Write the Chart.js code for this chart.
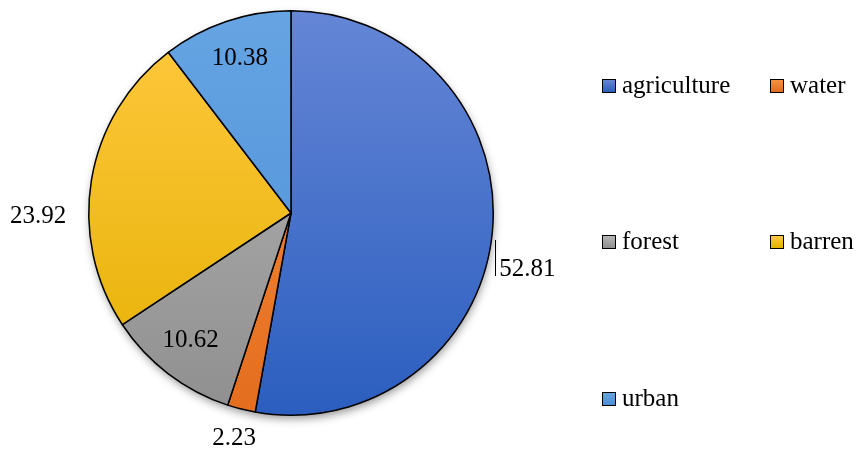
<!DOCTYPE html>
<html>
<head>
<meta charset="utf-8">
<script src="https://cdn.jsdelivr.net/npm/chart.js@4/dist/chart.umd.min.js"></script>
<style>
  html, body { margin: 0; padding: 0; background: #fff; }
  #wrap { position: relative; width: 864px; height: 453px; }
  #pie { position: absolute; left: 0; top: 0; }
  .leg { position: absolute; font-family: "Liberation Serif", Tinos, "Times New Roman", "DejaVu Serif", serif; font-size: 25px; color: #000; line-height: 1; white-space: nowrap; }
  .leg .box { position: absolute; left: 0; width: 12px; height: 12px; border: 1px solid #000; }
  .leg .txt { position: absolute; }
</style>
</head>
<body>
<div id="wrap">
  <canvas id="pie" width="864" height="453"></canvas>
</div>
<script>
// data
const categories = ['agriculture', 'water', 'forest', 'barren', 'urban'];
const shares = [52.81, 2.23, 10.62, 23.92, 10.38];

// top / bottom gradient colours per slice
const colTop = ['#6586d6', '#f6903f', '#b6b6b6', '#ffc940', '#66a4e3'];
const colBot = ['#2b5ebf', '#e46d1e', '#8f8f8f', '#e4b000', '#4b8fd6'];

// label placement: radius factor and angle nudge (degrees), leader line flag
const labelPlace = [
  { r: 1.2, nudge: 8, leader: true },
  { r: 1.145, nudge: 0 },
  { r: 0.8, nudge: 1 },
  { r: 1.25, nudge: -10 },
  { r: 0.81, nudge: 0.5 }
];

const FONT = '25px "Liberation Serif", Tinos, "Times New Roman", "DejaVu Serif", serif';

function pieGradient(ctx, i) {
  const area = ctx.chart.chartArea;
  if (!area) return colTop[i];
  const g = ctx.chart.ctx.createLinearGradient(0, area.top, 0, area.bottom);
  g.addColorStop(0, colTop[i]);
  g.addColorStop(1, colBot[i]);
  return g;
}

const shadowPlugin = {
  id: 'pieShadow',
  beforeDatasetsDraw(chart) {
    const arc = chart.getDatasetMeta(0).data[0];
    if (!arc) return;
    const c = chart.ctx;
    c.save();
    c.shadowColor = 'rgba(0,0,0,0.45)';
    c.shadowBlur = 10;
    c.shadowOffsetX = 1;
    c.shadowOffsetY = 4;
    c.fillStyle = '#fff';
    c.beginPath();
    c.arc(arc.x, arc.y, arc.outerRadius - 1, 0, Math.PI * 2);
    c.fill();
    c.restore();
  }
};

const labelPlugin = {
  id: 'pieLabels',
  afterDatasetsDraw(chart) {
    const c = chart.ctx;
    const meta = chart.getDatasetMeta(0);
    c.save();
    c.font = FONT;
    c.fillStyle = '#000';
    c.textAlign = 'center';
    c.textBaseline = 'middle';
    meta.data.forEach((arc, i) => {
      const p = labelPlace[i];
      const mid = (arc.startAngle + arc.endAngle) / 2 + p.nudge * Math.PI / 180;
      const rr = arc.outerRadius * p.r;
      const x = arc.x + Math.cos(mid) * rr;
      const y = arc.y + Math.sin(mid) * rr;
      const txt = shares[i].toFixed(2);
      c.fillText(txt, x, y + 1);
      if (p.leader) {
        const w = c.measureText(txt).width;
        const lx = Math.round(x - w / 2 - 4) + 0.5;
        c.strokeStyle = '#000';
        c.lineWidth = 1;
        c.beginPath();
        c.moveTo(lx, y - 28);
        c.lineTo(lx, y + 8);
        c.stroke();
      }
    });
    c.restore();
  }
};

const chart = new Chart(document.getElementById('pie'), {
  type: 'pie',
  data: {
    labels: categories,
    datasets: [{
      data: shares,
      backgroundColor: ctx => pieGradient(ctx, ctx.dataIndex),
      borderColor: '#000',
      borderWidth: 1.5
    }]
  },
  options: {
    responsive: false,
    animation: false,
    layout: { padding: { left: 87, right: 369, top: 10, bottom: 37 } },
    plugins: { legend: { display: false }, tooltip: { enabled: false } }
  },
  plugins: [shadowPlugin, labelPlugin]
});

// legend laid out in the same 2-column grid as the original
const wrap = document.getElementById('wrap');
const legCols = [602, 770];
const legRows = [86, 242, 399];
categories.forEach((name, i) => {
  const d = document.createElement('div');
  d.className = 'leg';
  d.style.left = legCols[i % 2] + 'px';
  d.style.top = legRows[Math.floor(i / 2)] + 'px';
  d.innerHTML = '<div class="box" style="top:-7px;background:linear-gradient(' + colTop[i] + ',' + colBot[i] + ')"></div>' +
    '<div class="txt" style="left:20px;top:-14px">' + name + '</div>';
  wrap.appendChild(d);
});
</script>
</body>
</html>
